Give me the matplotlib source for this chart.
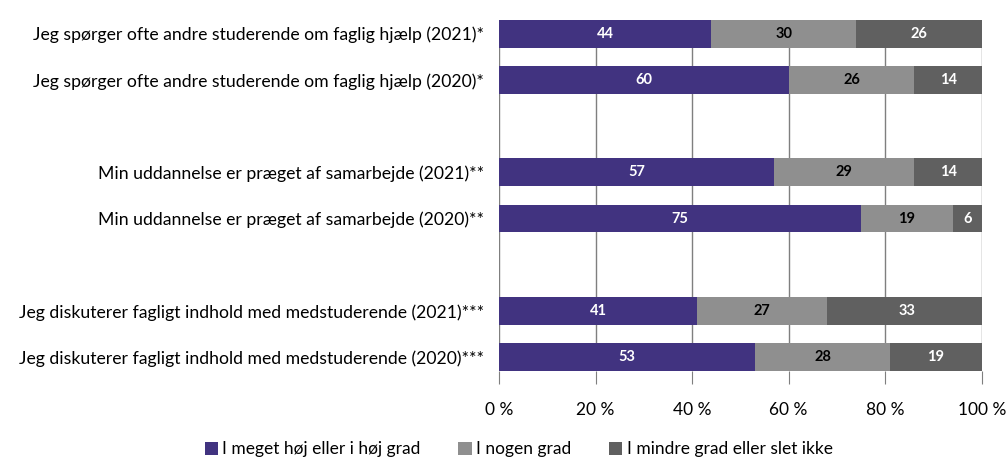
import matplotlib
matplotlib.use('Agg')
import matplotlib.pyplot as plt
import numpy as np

plt.rcParams['font.family'] = ['Lato', 'DejaVu Sans']

labels = [
    'Jeg spørger ofte andre studerende om faglig hjælp (2021)*',
    'Jeg spørger ofte andre studerende om faglig hjælp (2020)*',
    'Min uddannelse er præget af samarbejde (2021)**',
    'Min uddannelse er præget af samarbejde (2020)**',
    'Jeg diskuterer fagligt indhold med medstuderende (2021)***',
    'Jeg diskuterer fagligt indhold med medstuderende (2020)***',
]
high = [44, 60, 57, 75, 41, 53]
some = [30, 26, 29, 19, 27, 28]
low = [26, 14, 14, 6, 33, 19]
series_names = ['I meget høj eller i høj grad', 'I nogen grad', 'I mindre grad eller slet ikke']
colors = ['#413380', '#8f8f8f', '#606060']
text_colors = ['white', 'black', 'white']

# empty slot between the groups
ypos = [0, 1, 3, 4, 6, 7]

fig = plt.figure(figsize=(10.07, 4.61), dpi=100)
ax = fig.add_axes([0.4955, 0.195, 0.4795, 0.762])

left = np.zeros(len(labels))
for vals, name, c, tc in zip([high, some, low], series_names, colors, text_colors):
    vals = np.array(vals)
    ax.barh(ypos, vals, left=left, height=0.6, color=c, label=name, zorder=2)
    for y, l, v in zip(ypos, left, vals):
        ax.text(l + v / 2, y, str(v), ha='center', va='center', color=tc,
                fontsize=10.5, fontweight='bold', zorder=3)
    left += vals

ax.set_xlim(0, 100)
ax.set_ylim(7.3, -0.3)
ax.set_yticks(ypos)
ax.set_yticklabels(labels, fontsize=12.7)
ax.tick_params(axis='y', length=0, pad=11)
ax.set_xticks(range(0, 101, 20))
ax.set_xticklabels([f'{t} %' for t in range(0, 101, 20)], fontsize=12.5)
ax.tick_params(axis='x', length=9, color='#7f7f7f', pad=13)
ax.grid(axis='x', color='#7f7f7f', linewidth=1, zorder=1)
for s in ax.spines.values():
    s.set_visible(False)

ax.legend(loc='lower center', ncol=3, frameon=False, fontsize=12.5,
          handlelength=0.75, handleheight=0.75, handletextpad=0.25, columnspacing=2.2)
leg = ax.get_legend()
leg.set_bbox_to_anchor((0.515, -0.026), transform=fig.transFigure)

fig.savefig('out.png', dpi=100)
